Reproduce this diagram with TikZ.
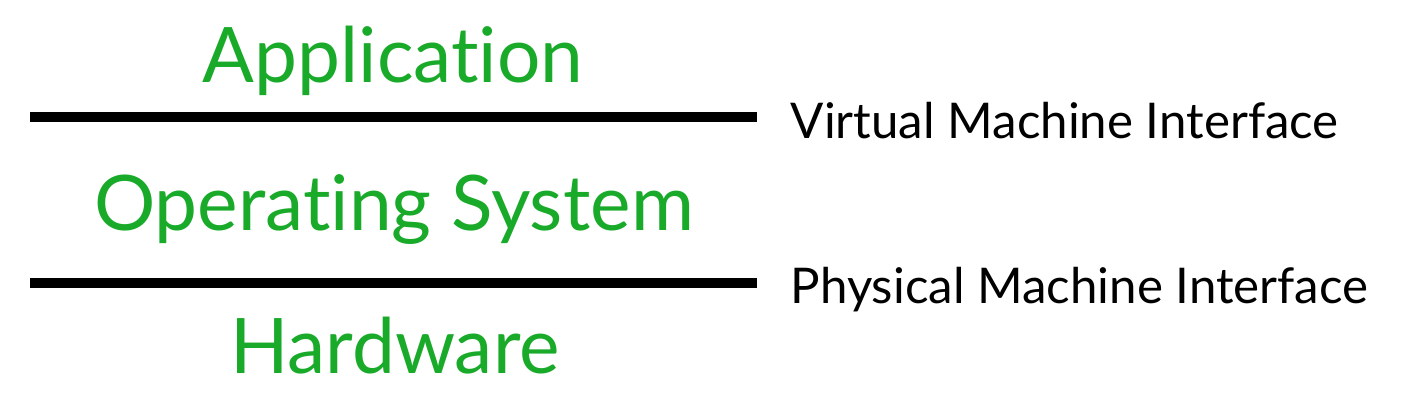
\documentclass[tikz,border=0pt]{standalone}
\usepackage{fontspec}
\setmainfont[Ligatures={NoCommon,NoDiscretionary}]{Lato}
\definecolor{osgreen}{RGB}{26,170,42}
\begin{document}
\begin{tikzpicture}[x=0.01cm,y=-0.01cm,
  layer/.style={text=osgreen,font=\fontsize{21.8}{21.8}\selectfont,anchor=base,inner sep=0pt},
  iface/.style={text=black,font=\fontsize{14}{14}\selectfont,anchor=base west,inner sep=0pt},
  bar/.style={line width=3pt}]
\useasboundingbox (0,0) rectangle (1420,400);
\node[layer] (app) at (393,83) {Application};
\node[layer] (os) at (394,230) {Operating System};
\node[layer] (hw) at (395,373) {Hardware};
\coordinate (v1) at (30,117);
\coordinate (v2) at (757,117);
\coordinate (p1) at (30,283);
\coordinate (p2) at (757,283);
\draw[bar] (v1) -- (v2);
\draw[bar] (p1) -- (p2);
\node[iface] (vmi) at (790,138) {Virtual Machine Interface};
\node[iface] (pmi) at (790,304) {Physical Machine Interface};
\end{tikzpicture}
\end{document}
